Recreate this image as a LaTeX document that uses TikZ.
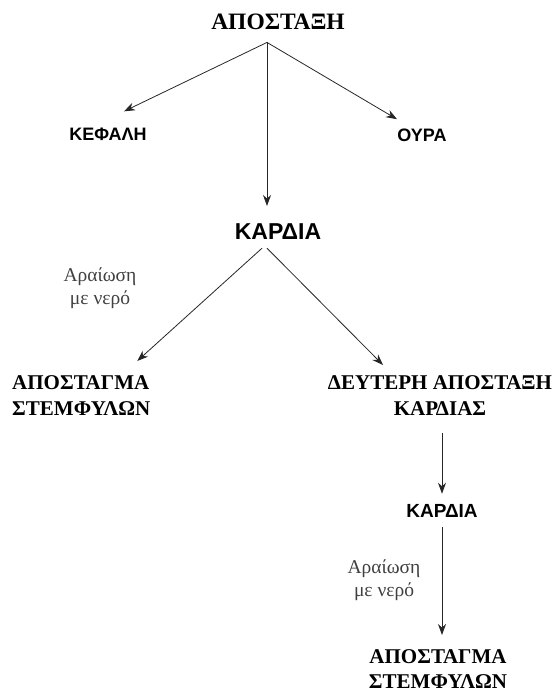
\documentclass[tikz,border=0pt]{standalone}
\usepackage{fontspec}
\setmainfont{Liberation Serif}
\setsansfont{Liberation Sans}
\usetikzlibrary{arrows.meta}

\begin{document}
\begin{tikzpicture}[x=1pt, y=-1pt,
            stage/.style={font=\bfseries\fontsize{21}{26}\selectfont, inner sep=0pt, align=center},
            part/.style={font=\sffamily\bfseries\fontsize{18}{22}\selectfont, inner sep=0pt, anchor=base},
            note/.style={font=\fontsize{19.5}{23}\selectfont, text=black!75, inner sep=0pt, align=center},
            flow/.style={draw=black!85, line width=.8pt, -{Stealth[length=11pt,width=8pt]}}]
            \useasboundingbox (0,0) rectangle (556,695);
            \node[stage, font=\bfseries\fontsize{23.5}{28}\selectfont, anchor=base] (apostaxi) at (278,30) {ΑΠΟΣΤΑΞΗ};
            \node[part] (kefali) at (108,141) {ΚΕΦΑΛΗ};
            \node[part] (oura) at (422,142) {ΟΥΡΑ};
            \node[part, font=\sffamily\bfseries\fontsize{23}{27}\selectfont] (kardia) at (278,239) {ΚΑΡΔΙΑ};
            \node[note] (araiosia) at (100,288) {Αραίωση\\με νερό};
            \node[stage, anchor=north west, align=left] (stemfyla) at (12,375) {ΑΠΟΣΤΑΓΜΑ\\ΣΤΕΜΦΥΛΩΝ};
            \node[stage, anchor=north] (deftera) at (440,375) {ΔΕΥΤΕΡΗ ΑΠΟΣΤΑΞΗ\\ΚΑΡΔΙΑΣ};
            \node[part, font=\sffamily\bfseries\fontsize{19}{23}\selectfont] (kardiab) at (442,517) {ΚΑΡΔΙΑ};
            \node[note] (araiosib) at (384,580) {Αραίωση\\με νερό};
            \node[stage, anchor=north, font=\bfseries\fontsize{21}{25}\selectfont] (teliko) at (438,649) {ΑΠΟΣΤΑΓΜΑ\\ΣΤΕΜΦΥΛΩΝ};
            \coordinate (fork) at ([xshift=-11pt,yshift=-12pt]apostaxi.south);
            \draw[flow] (fork) -- ([xshift=16pt,yshift=17pt]kefali.north);
            \draw[flow] (fork) -- ([xshift=-25pt,yshift=10pt]oura.north);
            \draw[flow] (fork) -- ([xshift=-11pt,yshift=17pt]kardia.north);
            \draw[flow] ([xshift=-16pt,yshift=-9pt]kardia.south) -- ([xshift=56pt,yshift=14pt]stemfyla.north);
            \draw[flow] ([xshift=-11pt,yshift=-9pt]kardia.south) -- ([xshift=-57pt,yshift=10pt]deftera.north);
            \draw[flow] ([xshift=2pt,yshift=-18pt]deftera.south) -- ([yshift=10pt]kardiab.north);
            \draw[flow] ([yshift=-10pt]kardiab.south) -- ([xshift=4pt,yshift=14pt]teliko.north);
        \end{tikzpicture}
\end{document}
